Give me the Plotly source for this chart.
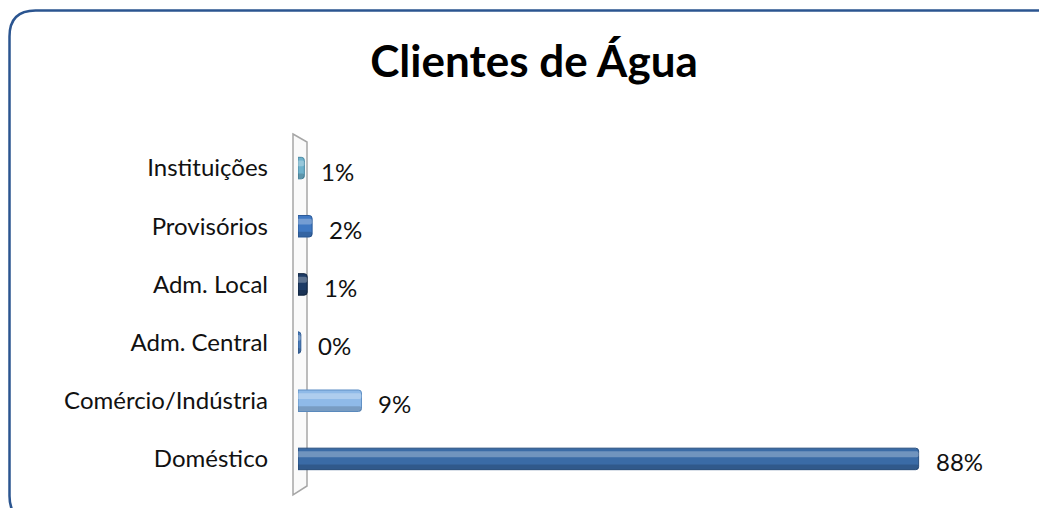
import plotly.graph_objects as go

categories = ["Instituições", "Provisórios", "Adm. Local", "Adm. Central", "Comércio/Indústria", "Doméstico"]
values = [0.9, 2.0, 1.3, 0.4, 9.0, 88.0]
bar_colors = ["#6FB2CC", "#3F78C2", "#1E3C66", "#4B7DBA", "#8FBAE8", "#3A6BA6"]
line_colors = ["#4A8AA3", "#2A5A99", "#10243F", "#2F5C96", "#5E8FC4", "#274E7E"]
title_text = "Clientes de Água"

OFF = 8  # page body margin
W, H = 1047 - OFF, 508 - OFF
ML, MR, MT, MB = 298 - OFF, 79, 139 - OFF, 20
PW, PH = W - ML - MR, H - MT - MB
FONT = "Lato, 'Open Sans', sans-serif"


def px(x):
    return (x - OFF - ML) / PW


def py(y):
    return (H - MB - (y - OFF)) / PH


fig = go.Figure()
fig.add_trace(go.Bar(
    x=values, y=categories, orientation="h",
    marker=dict(color=bar_colors, line=dict(color=line_colors, width=1), cornerradius=3),
    width=0.37, offset=-0.185, hoverinfo="skip",
))
# cylinder shading (highlight and shadow bands of the same bars)
fig.add_trace(go.Bar(
    x=values, y=categories, orientation="h",
    marker=dict(color="rgba(255,255,255,0.28)", line=dict(width=0), cornerradius=2),
    width=0.10, offset=-0.13, hoverinfo="skip",
))
fig.add_trace(go.Bar(
    x=values, y=categories, orientation="h",
    marker=dict(color="rgba(0,0,0,0.16)", line=dict(width=0), cornerradius=2),
    width=0.085, offset=0.095, hoverinfo="skip",
))

for c, v in zip(categories, values):
    fig.add_annotation(x=v, y=c, xref="x", yref="y", text=f"{v:.0f}%",
                       showarrow=False, xanchor="left", xshift=15, yshift=-3,
                       font=dict(family=FONT, size=24, color="#111111"))

# rounded border
x0, y0, x1, y1, r = 9.5, 10.5, 1062, 522, 26
path = (f"M {px(x0)},{py(y0 + r)} Q {px(x0)},{py(y0)} {px(x0 + r)},{py(y0)} "
        f"L {px(x1 - r)},{py(y0)} Q {px(x1)},{py(y0)} {px(x1)},{py(y0 + r)} "
        f"L {px(x1)},{py(y1 - r)} Q {px(x1)},{py(y1)} {px(x1 - r)},{py(y1)} "
        f"L {px(x0 + r)},{py(y1)} Q {px(x0)},{py(y1)} {px(x0)},{py(y1 - r)} Z")
fig.add_shape(type="path", path=path, xref="paper", yref="paper",
              line=dict(color="#2B5590", width=2.5), fillcolor="rgba(0,0,0,0)", layer="below")

# 3D wall
wall = (f"M {px(293)},{py(134)} L {px(307)},{py(142)} L {px(307)},{py(486)} "
        f"L {px(293)},{py(495)} Z")
fig.add_shape(type="path", path=wall, xref="paper", yref="paper",
              line=dict(color="#A6A6A6", width=1.5), fillcolor="#FAFAFA", layer="below")

fig.update_layout(
    width=W, height=H,
    margin=dict(l=ML, r=MR, t=MT, b=MB),
    paper_bgcolor="white", plot_bgcolor="rgba(0,0,0,0)",
    showlegend=False, barmode="overlay",
    title=dict(text=f"<b>{title_text}</b>", x=(534 - OFF) / W, xanchor="center",
               y=1 - (62 - OFF) / H, yanchor="middle",
               font=dict(family=FONT, size=44, color="#000000")),
    xaxis=dict(range=[0, 95], visible=False, fixedrange=True),
    yaxis=dict(autorange="reversed", showgrid=False, zeroline=False, showline=False,
               ticks="", ticklabelstandoff=29,
               tickfont=dict(family=FONT, size=24, color="#111111")),
)

fig.write_html("out.html")
